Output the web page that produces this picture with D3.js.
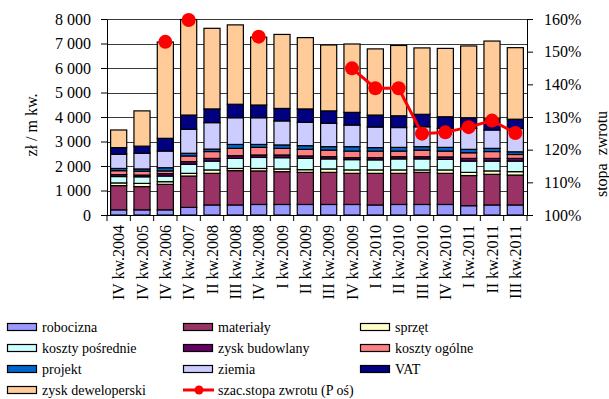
<!DOCTYPE html>
<html>
<head>
<meta charset="utf-8">
<script src="https://cdn.jsdelivr.net/npm/d3@7"></script>
<style>
  html, body { margin: 0; padding: 0; background: #fff; }
  svg { display: block; }
</style>
</head>
<body>
<svg id="chart" width="609" height="399"></svg>
<script>
// ---------- DATA ----------
const categories = ["IV kw.2004","IV kw.2005","IV kw.2006","IV kw.2007","II kw.2008","III kw.2008","IV kw.2008","I kw.2009","II kw.2009","III kw.2009","IV kw.2009","I kw.2010","II kw.2010","III kw.2010","IV kw.2010","I kw.2011","II kw.2011","III kw.2011"];

const robocizna        = [210, 210, 210, 310, 410, 410, 430, 430, 430, 430, 430, 410, 430, 430, 430, 380, 410, 410];
const materialy        = [990, 950, 1040, 1280, 1290, 1400, 1370, 1340, 1310, 1310, 1270, 1290, 1270, 1310, 1270, 1230, 1250, 1220];
const sprzet           = [110, 130, 110, 110, 140, 90, 100, 110, 110, 140, 140, 140, 140, 100, 140, 130, 140, 140];
const kosztyPosrednie  = [260, 270, 230, 370, 360, 410, 450, 460, 460, 410, 420, 410, 450, 450, 430, 460, 400, 430];
const zyskBudowlany    = [80, 70, 100, 110, 110, 110, 100, 110, 100, 90, 80, 90, 90, 90, 100, 110, 110, 110];
const kosztyOgolne     = [160, 160, 110, 230, 280, 300, 310, 270, 270, 270, 270, 270, 230, 270, 240, 230, 280, 160];
const projekt          = [90, 90, 130, 110, 100, 160, 120, 140, 150, 140, 180, 140, 150, 140, 150, 140, 130, 110];
const ziemia           = [580, 640, 680, 980, 1080, 1090, 1090, 980, 950, 950, 880, 840, 810, 810, 780, 860, 750, 950];
const vat              = [270, 290, 520, 580, 560, 550, 520, 510, 550, 510, 520, 490, 480, 510, 470, 430, 480, 380];
const zyskDeweloperski = [720, 1440, 3930, 3900, 3290, 3240, 2770, 3020, 2910, 2690, 2790, 2700, 2870, 2710, 2790, 2930, 3150, 2920];

// szac. stopa zwrotu (%): isolated estimates and the connected series
const stopaPunkty = [null, null, 153, 159.7, null, null, 154.6, null, null, null, null, null, null, null, null, null, null, null];
const stopaLinia  = [null, null, null, null, null, null, null, null, null, null, 144.9, 138.8, 138.8, 124.9, 125.3, 126.9, 128.9, 125.1];

const leftTicks  = [0, 1000, 2000, 3000, 4000, 5000, 6000, 7000, 8000];
const rightTicks = [100, 110, 120, 130, 140, 150, 160];

const seriesNames = ["robocizna","materiały","sprzęt","koszty pośrednie","zysk budowlany","koszty ogólne","projekt","ziemia","VAT","zysk deweloperski"];
const seriesValues = [robocizna, materialy, sprzet, kosztyPosrednie, zyskBudowlany, kosztyOgolne, projekt, ziemia, vat, zyskDeweloperski];
const lineName = "szac.stopa zwrotu (P oś)";

// ---------- STYLE ----------
const colors = ["#9999FF","#993366","#FFFFCC","#CCFFFF","#660066","#FF8080","#0066CC","#CCCCFF","#000080","#FFCC99"];
const lineColor = "#FF0000";
const FONT = "'Liberation Serif', 'Times New Roman', serif";

// ---------- LAYOUT ----------
const svg = d3.select("#chart").style("font-family", FONT);
const plot = {left: 107, right: 527, top: 19, bottom: 215};

const rows = categories.map((c, i) => {
  const r = {cat: c};
  seriesNames.forEach((n, k) => r[n] = seriesValues[k][i]);
  return r;
});
const stack = d3.stack().keys(seriesNames)(rows);

const x = d3.scaleBand().domain(categories).range([plot.left, plot.right]).paddingInner(0.31).paddingOuter(0.155);
const y = d3.scaleLinear().domain([0, 8000]).range([plot.bottom, plot.top]);
const y2 = d3.scaleLinear().domain([100, 160]).range([plot.bottom, plot.top]);

// gridlines
svg.append("g").selectAll("line").data(leftTicks).join("line")
  .attr("x1", plot.left).attr("x2", plot.right)
  .attr("y1", d => Math.round(y(d)) + 0.5).attr("y2", d => Math.round(y(d)) + 0.5)
  .attr("stroke", "#3a3a3a").attr("stroke-width", 1);

// bars
svg.append("g").selectAll("g").data(stack).join("g")
  .attr("fill", (d, i) => colors[i])
  .selectAll("rect").data(d => d).join("rect")
  .attr("x", d => x(d.data.cat))
  .attr("width", x.bandwidth())
  .attr("y", d => y(d[1]))
  .attr("height", d => y(d[0]) - y(d[1]))
  .attr("stroke", "#000").attr("stroke-width", 1.2);

// left axis
const fmt = d => d3.format(",")(d).replace(/,/g, " ");
const gl = svg.append("g").attr("transform", `translate(${plot.left},0)`)
  .call(d3.axisLeft(y).tickValues(leftTicks).tickFormat(fmt).tickSize(6).tickPadding(10).tickSizeOuter(0));
gl.attr("font-family", null);
gl.select(".domain").attr("stroke", "#000");
gl.selectAll("text").attr("font-size", 16).style("font-family", FONT);

// right axis
const gr = svg.append("g").attr("transform", `translate(${plot.right},0)`)
  .call(d3.axisRight(y2).tickValues(rightTicks).tickFormat(d => d + "%").tickSize(6).tickPadding(11).tickSizeOuter(0));
gr.attr("font-family", null);
gr.select(".domain").attr("stroke", "#000");
gr.selectAll("text").attr("font-size", 16).style("font-family", FONT);

// bottom axis
const step = (plot.right - plot.left) / categories.length;
const gb = svg.append("g");
gb.append("line").attr("x1", plot.left).attr("x2", plot.right)
  .attr("y1", plot.bottom + 0.5).attr("y2", plot.bottom + 0.5).attr("stroke", "#000");
gb.selectAll("line.tk").data(d3.range(categories.length + 1)).join("line").attr("class", "tk")
  .attr("x1", i => plot.left + i * step).attr("x2", i => plot.left + i * step)
  .attr("y1", plot.bottom).attr("y2", plot.bottom + 6).attr("stroke", "#000");
gb.selectAll("text").data(categories).join("text")
  .attr("transform", d => `translate(${x(d) + x.bandwidth() / 2},225) rotate(-90)`)
  .attr("text-anchor", "end").attr("dy", "0.35em").attr("font-size", 16)
  .style("font-family", FONT)
  .text(d => d);

// line series
const cx = i => x(categories[i]) + x.bandwidth() / 2;
const line = d3.line().defined(d => d != null).x((d, i) => cx(i)).y(d => y2(d));
svg.append("path").datum(stopaLinia).attr("d", line)
  .attr("fill", "none").attr("stroke", lineColor).attr("stroke-width", 3);
const pts = [];
stopaLinia.forEach((v, i) => { if (v != null) pts.push([i, v]); });
stopaPunkty.forEach((v, i) => { if (v != null) pts.push([i, v]); });
svg.append("g").selectAll("circle").data(pts).join("circle")
  .attr("cx", d => cx(d[0])).attr("cy", d => y2(d[1])).attr("r", 7).attr("fill", lineColor);

// axis titles
svg.append("text").attr("transform", "translate(31,125) rotate(-90)")
  .attr("text-anchor", "middle").attr("dy", "0.35em").attr("font-size", 16)
  .style("font-family", FONT).text("zł / m kw.");
svg.append("text").attr("transform", "translate(601,154) rotate(-90)")
  .attr("text-anchor", "middle").attr("dy", "0.35em").attr("font-size", 16)
  .style("font-family", FONT).style("white-space", "pre").text("stopa  zwrotu");

// legend
const legX = [7, 183, 360];
const legY = [327, 348, 369, 390];
const legItems = seriesNames.map((n, i) => ({name: n, color: colors[i], type: "rect"}));
legItems.push({name: lineName, color: lineColor, type: "line"});
const lg = svg.append("g");
legItems.forEach((it, i) => {
  const col = i % 3, row = Math.floor(i / 3);
  const gx = legX[col], gy = legY[row];
  const g = lg.append("g").attr("transform", `translate(${gx},${gy})`);
  if (it.type === "rect") {
    g.append("rect").attr("x", 0.5).attr("y", -3.5).attr("width", 29).attr("height", 7)
      .attr("fill", it.color).attr("stroke", "#000").attr("stroke-width", 1.2);
  } else {
    g.append("line").attr("x1", 0).attr("x2", 31).attr("y1", 0).attr("y2", 0)
      .attr("stroke", it.color).attr("stroke-width", 3);
    g.append("circle").attr("cx", 16).attr("cy", 0).attr("r", 4.5).attr("fill", it.color);
  }
  g.append("text").attr("x", 35).attr("dy", "0.35em").attr("font-size", 14)
    .style("font-family", FONT).text(it.name);
});
</script>
</body>
</html>
